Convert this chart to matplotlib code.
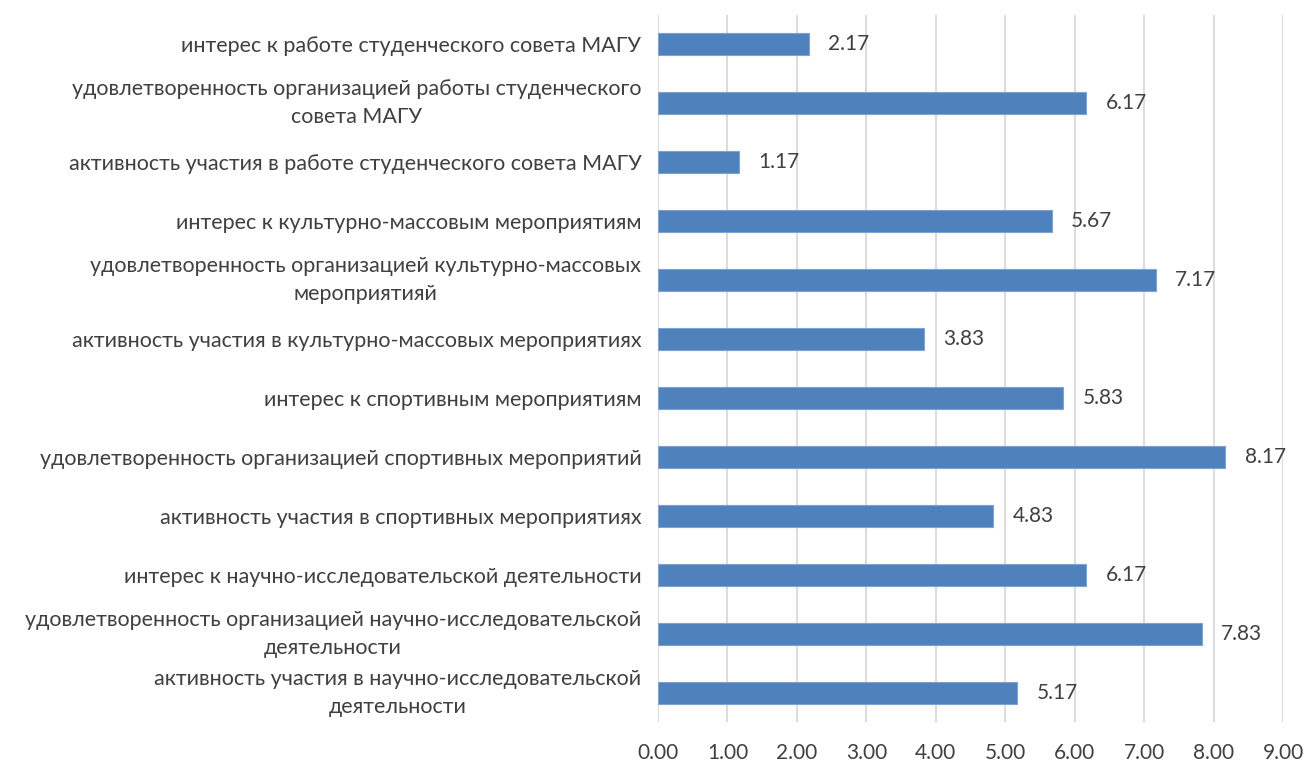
import matplotlib.pyplot as plt

categories = [
    'интерес к работе студенческого совета МАГУ',
    'удовлетворенность организацией работы студенческого\nсовета МАГУ',
    'активность участия в работе студенческого совета МАГУ',
    'интерес к культурно-массовым мероприятиям',
    'удовлетворенность организацией культурно-массовых\nмероприятияй',
    'активность участия в культурно-массовых мероприятиях',
    'интерес к спортивным мероприятиям',
    'удовлетворенность организацией спортивных мероприятий',
    'активность участия в спортивных мероприятиях',
    'интерес к научно-исследовательской деятельности',
    'удовлетворенность организацией научно-исследовательской\nдеятельности',
    'активность участия в научно-исследовательской\nдеятельности',
]
values = [2.17, 6.17, 1.17, 5.67, 7.17, 3.83, 5.83, 8.17, 4.83, 6.17, 7.83, 5.17]
xticks = [0, 1, 2, 3, 4, 5, 6, 7, 8, 9]

plt.rcParams['font.family'] = ['Lato', 'DejaVu Sans']
text_color = '#404040'

fig = plt.figure(figsize=(13.06, 7.65), dpi=100)
ax = fig.add_axes([0.5038, 0.0556, 0.4786, 0.9254])

pos = list(range(len(categories)))
ax.barh(pos, values, height=0.36, color='#4f81bd', edgecolor='#7ea3d1', linewidth=0.8, zorder=3)
for p, v in zip(pos, values):
    ax.text(v + 0.28, p, f'{v:.2f}', va='center', ha='left', fontsize=15, color=text_color)

ax.set_ylim(len(categories) - 0.5, -0.5)
ax.set_xlim(0, 9)
ax.set_xticks(xticks)
ax.set_xticklabels([f'{t:.2f}' for t in xticks], fontsize=15, color=text_color)
ax.set_yticks(pos)
ax.set_yticklabels(categories, fontsize=15.5, color=text_color,
                   multialignment='center', linespacing=1.45)
# two-line labels sit centred on the bar
for lbl in ax.get_yticklabels():
    if '\n' in lbl.get_text():
        lbl.set_va('center')
ax.tick_params(axis='both', length=0)
ax.tick_params(axis='x', pad=15)
ax.tick_params(axis='y', pad=12)
for s in ax.spines.values():
    s.set_visible(False)
ax.grid(axis='x', color='#d9d9d9', linewidth=1.3, zorder=0)
ax.set_axisbelow(True)

fig.savefig('out.png', dpi=100)
